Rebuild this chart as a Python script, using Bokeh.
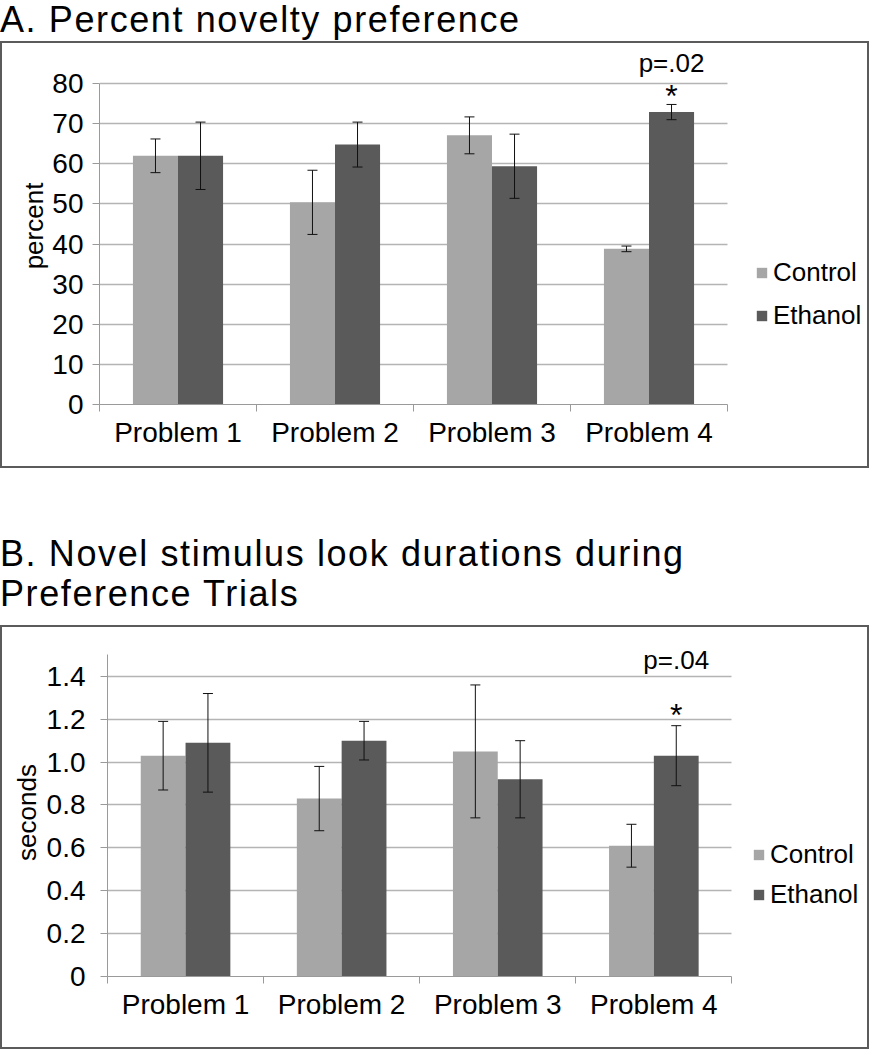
from bokeh.plotting import figure
from bokeh.models import (Range1d, FixedTicker, Legend, LegendItem, Whisker, TeeHead,
                          ColumnDataSource, Label, Div, PrintfTickFormatter)
from bokeh.layouts import column
from bokeh.embed import file_html
from bokeh.resources import INLINE

# ---------------- data ----------------
categories = ["Problem 1", "Problem 2", "Problem 3", "Problem 4"]

# Panel A: percent novelty preference
pct_control = [62.0, 50.4, 67.1, 38.8]
pct_control_err = [4.2, 8.0, 4.6, 0.7]
pct_ethanol = [62.0, 64.8, 59.4, 72.9]
pct_ethanol_err = [8.4, 5.6, 8.0, 1.9]
pct_ticks = [0, 10, 20, 30, 40, 50, 60, 70, 80]

# Panel B: novel stimulus look durations (seconds)
sec_control = [1.03, 0.83, 1.05, 0.61]
sec_control_err = [0.16, 0.15, 0.31, 0.10]
sec_ethanol = [1.09, 1.10, 0.92, 1.03]
sec_ethanol_err = [0.23, 0.09, 0.18, 0.14]
sec_ticks = [0, 0.2, 0.4, 0.6, 0.8, 1.0, 1.2, 1.4]

title_a = "A. Percent novelty preference"
title_b = "B. Novel stimulus look durations during<br>Preference Trials"

FONT = "Liberation Sans"
C_CTRL = "#a6a6a6"
C_ETH = "#5a5a5a"
AX = "#9a9a9a"
GRID = "#b4b4b4"
BAR_W = 0.287
FIG_W = 869


def panel(ctrl, ctrl_err, eth, eth_err, y_end, axis_top, y_ticks, y_fmt,
          ylabel, p_text, p_y, star_y, height, top, bottom, left, right,
          px_per_cat, tick_standoff, label_standoff, legend_xy, legend_spacing):
    n = len(categories)
    xs = [i + 0.5 for i in range(n)]
    frame_w = FIG_W - left - right
    x_end = frame_w / px_per_cat
    p = figure(width=FIG_W, height=height, output_backend="svg",
               toolbar_location=None, tools="",
               x_range=Range1d(0, x_end), y_range=Range1d(0, y_end),
               min_border_left=left, min_border_right=right,
               min_border_top=top, min_border_bottom=bottom,
               outline_line_color=None, background_fill_color="white",
               border_fill_color="white")
    p.styles = {"border": "2px solid #5b5b5b"}

    src_c = ColumnDataSource(dict(
        x=[x - BAR_W / 2 for x in xs], top=ctrl,
        upper=[m + e for m, e in zip(ctrl, ctrl_err)],
        lower=[m - e for m, e in zip(ctrl, ctrl_err)]))
    src_e = ColumnDataSource(dict(
        x=[x + BAR_W / 2 for x in xs], top=eth,
        upper=[m + e for m, e in zip(eth, eth_err)],
        lower=[m - e for m, e in zip(eth, eth_err)]))

    rc = p.vbar(x="x", top="top", width=BAR_W, source=src_c,
                fill_color=C_CTRL, line_color=None)
    re_ = p.vbar(x="x", top="top", width=BAR_W, source=src_e,
                 fill_color=C_ETH, line_color=None)

    for src in (src_c, src_e):
        w = Whisker(base="x", upper="upper", lower="lower", source=src,
                    line_color="#111111", line_width=1, level="overlay",
                    upper_head=TeeHead(size=10, line_color="#111111", line_width=1),
                    lower_head=TeeHead(size=10, line_color="#111111", line_width=1))
        p.add_layout(w)

    # x axis: labels at category centres, tick marks at category boundaries
    xa = p.xaxis[0]
    xa.bounds = (0, n)
    xa.ticker = FixedTicker(ticks=xs, minor_ticks=list(range(n + 1)))
    xa.major_label_overrides = {x: c for x, c in zip(xs, categories)}
    xa.major_tick_out = 0
    xa.major_tick_in = 0
    xa.minor_tick_out = 7
    xa.minor_tick_in = 0
    xa.minor_tick_line_color = AX
    xa.axis_line_color = AX
    xa.major_label_text_font = FONT
    xa.major_label_text_font_size = "28px"
    xa.major_label_text_color = "black"
    xa.major_label_standoff = 5

    ya = p.yaxis[0]
    ya.bounds = (0, axis_top)
    ya.ticker = FixedTicker(ticks=y_ticks)
    if y_fmt is not None:
        ya.formatter = y_fmt
        ya.major_label_overrides = {0: "0"}
    ya.major_tick_out = 7
    ya.major_tick_in = 0
    ya.minor_tick_out = 0
    ya.minor_tick_in = 0
    ya.major_tick_line_color = AX
    ya.axis_line_color = AX
    ya.major_label_text_font = FONT
    ya.major_label_text_font_size = "28px"
    ya.major_label_text_color = "black"
    ya.major_label_standoff = tick_standoff
    ya.axis_label = ylabel
    ya.axis_label_text_font = FONT
    ya.axis_label_text_font_size = "26px"
    ya.axis_label_text_font_style = "normal"
    ya.axis_label_text_color = "black"
    ya.axis_label_standoff = label_standoff

    p.xgrid.visible = False
    p.ygrid.grid_line_color = GRID
    p.ygrid.grid_line_width = 1.5
    p.ygrid.cross_bounds = (0, n)

    legend = Legend(items=[LegendItem(label="Control", renderers=[rc]),
                           LegendItem(label="Ethanol", renderers=[re_])],
                    location=legend_xy, orientation="vertical",
                    label_text_font=FONT, label_text_font_size="26px",
                    label_text_color="black",
                    glyph_width=13, glyph_height=13, label_standoff=5,
                    label_height=30, spacing=legend_spacing, padding=0, margin=0,
                    border_line_color=None, background_fill_alpha=0)
    p.add_layout(legend)

    xe = xs[-1] + BAR_W / 2
    p.add_layout(Label(x=xe, y=p_y, text=p_text, text_align="center",
                       text_baseline="middle", text_font=FONT,
                       text_font_size="26px", text_color="black"))
    p.add_layout(Label(x=xe, y=star_y, text="*", text_align="center",
                       text_baseline="middle", text_font=FONT,
                       text_font_size="32px", text_color="black"))
    return p


def title_div(text, height, pad_top, line_h):
    return Div(text=text, width=FIG_W, height=height, margin=0,
               styles={"font-family": FONT, "font-size": "36px",
                       "letter-spacing": "1.6px",
                       "line-height": f"{line_h}px", "color": "black",
                       "padding-top": f"{pad_top}px", "box-sizing": "border-box",
                       "white-space": "nowrap"})


div_a = title_div(title_a, 41, 0, 40)
p_a = panel(pct_control, pct_control_err, pct_ethanol, pct_ethanol_err,
            89, pct_ticks[-1], pct_ticks, None, "percent", "p=.02", 85.2, 77.0,
            height=427, top=4, bottom=66, left=97, right=4, px_per_cat=157.0,
            tick_standoff=9, label_standoff=0,
            legend_xy=(656, 73), legend_spacing=12)

div_b = title_div(title_b, 157, 66, 40)
p_b = panel(sec_control, sec_control_err, sec_ethanol, sec_ethanol_err,
            1.53, 1.5, sec_ticks, PrintfTickFormatter(format="%.1f"),
            "seconds", "p=.04", 1.475, 1.221,
            height=424, top=21, bottom=75, left=105, right=4, px_per_cat=156.1,
            tick_standoff=15, label_standoff=2,
            legend_xy=(645, 66), legend_spacing=9)

layout = column(column(div_a, p_a, spacing=0), column(div_b, p_b, spacing=0), spacing=0)

open("out.html", "w").write(file_html(layout, INLINE))
